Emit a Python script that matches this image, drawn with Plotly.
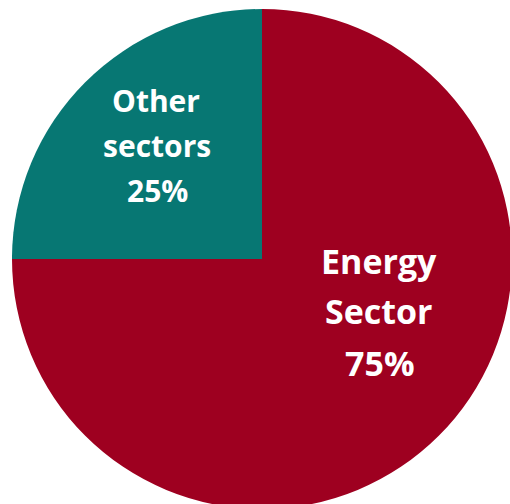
import plotly.graph_objects as go

# Data
labels = ["Other sectors", "Energy Sector"]
values = [25, 75]
colors = ["#077773", "#9E0020"]
label_lines = [["Other", "sectors", "25%"], ["Energy", "Sector", "75%"]]

# Layout geometry (pixels)
W, H = 524, 518
ML, MT = 12, 9
PW, PH = 500, 500

fig = go.Figure(go.Pie(
    labels=labels,
    values=values,
    marker=dict(colors=colors, line=dict(width=0)),
    sort=False,
    direction="clockwise",
    rotation=270,
    textinfo="none",
    hoverinfo="label+percent",
    showlegend=False,
))

def px_to_paper(xp, yp):
    return (xp - ML) / PW, 1 - (yp - MT) / PH

# label line positions (pixel centers) and font sizes
line_pos = [
    ([(156, 101), (157, 145), (157, 190)], 30),
    ([(379, 261), (379, 311), (380, 363)], 34),
]

annotations = []
for lines, (positions, fsize) in zip(label_lines, line_pos):
    for txt, (xp, yp) in zip(lines, positions):
        x, y = px_to_paper(xp, yp)
        annotations.append(dict(
            x=x, y=y, xref="paper", yref="paper",
            text="<b>%s</b>" % txt, showarrow=False,
            xanchor="center", yanchor="middle",
            font=dict(family="Open Sans", size=fsize, color="white"),
        ))

fig.update_layout(
    width=W, height=H,
    margin=dict(l=ML, r=W - ML - PW, t=MT, b=H - MT - PH, pad=0),
    paper_bgcolor="white",
    plot_bgcolor="white",
    annotations=annotations,
)

fig.write_html("out.html", post_script="document.documentElement.style.overflow='hidden';document.body.style.overflow='hidden';document.body.style.margin='0';")
